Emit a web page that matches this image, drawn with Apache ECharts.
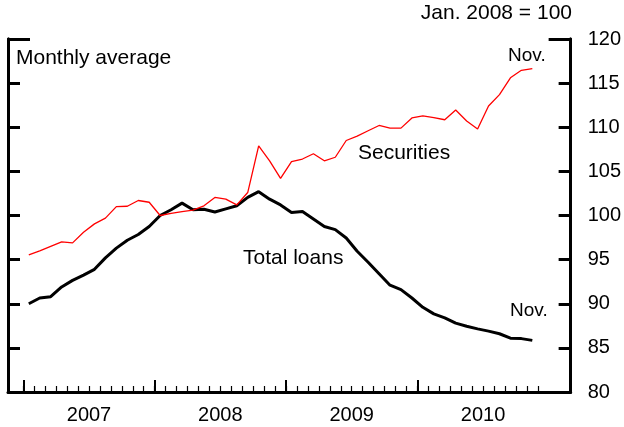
<!DOCTYPE html>
<html>
<head>
<meta charset="utf-8">
<script src="https://cdn.jsdelivr.net/npm/echarts@6/dist/echarts.min.js"></script>
<style>
  html, body { margin: 0; padding: 0; background: #fff; }
  #chart { width: 624px; height: 427px; }
</style>
</head>
<body>
<div id="chart"></div>
<script>
// months Jan 2007 .. Nov 2010, index of Jan. 2008 = 100
const years = ['2007', '2008', '2009', '2010']
const totalLoans = [
  90.0, 90.65, 90.8, 91.9, 92.65, 93.25, 93.9, 95.2, 96.3, 97.2, 97.85, 98.75,
  100.0, 100.65, 101.4, 100.65, 100.7, 100.4, 100.75, 101.1, 102.05, 102.7, 101.85, 101.2,
  100.35, 100.45, 99.6, 98.75, 98.4, 97.45, 95.95, 94.7, 93.4, 92.1, 91.6, 90.65,
  89.6, 88.85, 88.4, 87.8, 87.45, 87.15, 86.9, 86.6, 86.1, 86.05, 85.85
]
const securities = [
  95.55, 96.0, 96.5, 97.0, 96.9, 98.1, 99.05, 99.7, 101.0, 101.05, 101.7, 101.5,
  100.0, 100.25, 100.45, 100.6, 101.1, 102.05, 101.85, 101.2, 102.6, 107.9, 106.2, 104.2,
  106.1, 106.4, 107.0, 106.2, 106.6, 108.5, 109.0, 109.6, 110.2, 109.9, 109.9, 111.05,
  111.3, 111.1, 110.85, 111.95, 110.7, 109.8, 112.4, 113.7, 115.6, 116.45, 116.65
]

const font = 'Liberation Sans, Arial, sans-serif'
const black = '#000'

// x position = month index, points sit in the middle of each month
function toPoints (arr) {
  return arr.map((v, i) => [i + 0.5, v])
}

const monthTicks = []
for (let i = 0; i <= 47; i++) monthTicks.push(i)
const yearTicks = years.map((y, i) => i * 12)
const yearLabels = years.map((y, i) => i * 12 + 6)

function yAx (pos, ticks, len, labels) {
  return {
    type: 'value',
    position: pos,
    offset: 0,
    min: 80,
    max: 120,
    interval: 5,
    axisLine: { show: true, onZero: false, lineStyle: { color: black, width: 3 } },
    axisTick: {
      show: true,
      inside: true,
      length: len,
      customValues: ticks,
      lineStyle: { color: black, width: 3 }
    },
    axisLabel: {
      show: labels,
      margin: 17,
      color: black,
      fontFamily: font,
      fontSize: 20
    },
    splitLine: { show: false }
  }
}

const chart = echarts.init(document.getElementById('chart'), null, { renderer: 'canvas' })
chart.setOption({
  animation: false,
  backgroundColor: '#fff',
  grid: { left: 8, right: 51, top: 39, bottom: 35 },
  xAxis: [
    {
      type: 'value',
      position: 'bottom',
      min: -1.4,
      max: 50,
      axisLine: { show: true, onZero: false, lineStyle: { color: black, width: 3 } },
      axisTick: {
        show: true,
        inside: true,
        length: 6,
        customValues: monthTicks,
        lineStyle: { color: black, width: 1.2 }
      },
      axisLabel: { show: false },
      splitLine: { show: false }
    },
    {
      type: 'value',
      position: 'bottom',
      offset: 0,
      min: -1.4,
      max: 50,
      axisLine: { show: false, onZero: false },
      axisTick: {
        show: true,
        inside: true,
        length: 12,
        customValues: yearTicks,
        lineStyle: { color: black, width: 2 }
      },
      axisLabel: {
        show: true,
        customValues: yearLabels,
        margin: 13,
        color: black,
        fontFamily: font,
        fontSize: 20,
        formatter: v => years[Math.round((v - 6) / 12)]
      },
      splitLine: { show: false }
    }
  ],
  yAxis: [
    yAx('right', [85, 90, 95, 100, 105, 110, 115], 12, true),
    yAx('left', [85, 90, 95, 100, 105, 110, 115], 12, false),
    yAx('right', [120], 22, false),
    yAx('left', [120], 22, false)
  ],
  series: [
    {
      name: 'Total loans',
      type: 'line',
      data: toPoints(totalLoans),
      showSymbol: false,
      symbol: 'none',
      lineStyle: { color: black, width: 3 }
    },
    {
      name: 'Securities',
      type: 'line',
      data: toPoints(securities),
      showSymbol: false,
      symbol: 'none',
      lineStyle: { color: '#ff0000', width: 1.3 }
    }
  ],
  graphic: [
    { type: 'text', right: 52, top: 3, style: { text: 'Jan. 2008 = 100', font: '21px ' + font, fill: black } },
    { type: 'text', left: 16, top: 48, style: { text: 'Monthly average', font: '21px ' + font, fill: black } },
    { type: 'text', left: 508, top: 46, style: { text: 'Nov.', font: '19px ' + font, fill: black } },
    { type: 'text', left: 510, top: 301, style: { text: 'Nov.', font: '19px ' + font, fill: black } },
    { type: 'text', left: 358, top: 143, style: { text: 'Securities', font: '21px ' + font, fill: black } },
    { type: 'text', left: 243, top: 248, style: { text: 'Total loans', font: '21px ' + font, fill: black } }
  ]
})
</script>
</body>
</html>
